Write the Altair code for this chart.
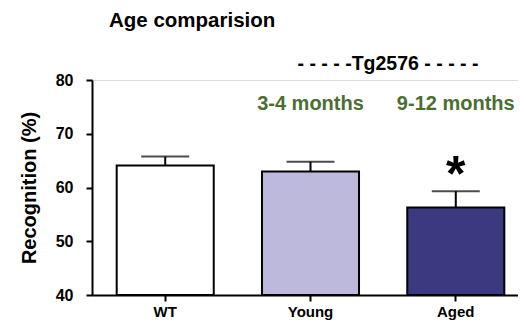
import altair as alt
import pandas as pd

groups = ["WT", "Young", "Aged"]
means = [64.1, 63.0, 56.3]
sems = [1.65, 1.8, 3.0]
colors = ["#FFFFFF", "#BCB9DC", "#3B3A80"]
stars = ["", "", "*"]
ages = ["", "3-4 months", "9-12 months"]
y_ticks = [40, 50, 60, 70, 80]

df = pd.DataFrame({
    "group": groups,
    "mean": means,
    "upper": [m + s for m, s in zip(means, sems)],
    "color": colors,
    "star": stars,
    "age": ages,
})

FONT = "Liberation Sans"

x_enc = alt.X("group:N", sort=groups,
              scale=alt.Scale(paddingInner=0.332, paddingOuter=0.17, range=[0, 437]),
              axis=alt.Axis(title=None, labelAngle=0, labelFont=FONT, labelFontSize=15,
                            labelFontWeight="bold", labelColor="black", labelPadding=3,
                            domainColor="black", domainWidth=2, tickColor="black",
                            tickWidth=2, tickSize=6))
y_scale = alt.Scale(domain=[40, 80], nice=False, clamp=True)

base = alt.Chart(df)

bars = base.mark_bar(stroke="black", strokeWidth=2).encode(
    x=x_enc,
    y=alt.Y("mean:Q", scale=y_scale,
            axis=alt.Axis(values=y_ticks, title="Recognition (%)", grid=False,
                          labelFont=FONT, labelFontSize=16, labelFontWeight="bold",
                          labelColor="black", labelPadding=13,
                          titleFont=FONT, titleFontSize=20, titleFontWeight="bold",
                          titleColor="black", titlePadding=16,
                          domainColor="black", domainWidth=2, tickColor="black",
                          tickWidth=2, tickSize=6)),
    y2=alt.datum(40),
    fill=alt.Fill("color:N", scale=None),
)

err = base.mark_rule(color="black", strokeWidth=2).encode(
    x=alt.X("group:N", sort=groups),
    y=alt.Y("mean:Q"),
    y2="upper:Q",
)

caps = base.mark_tick(color="black", thickness=2, size=48).encode(
    x=alt.X("group:N", sort=groups),
    y=alt.Y("upper:Q"),
)

star = base.mark_text(font=FONT, fontSize=50, fontWeight="bold", color="black",
                      baseline="alphabetic", dy=0).encode(
    x=alt.X("group:N", sort=groups),
    y=alt.Y("upper:Q"),
    text="star:N",
)

age_txt = base.mark_text(font=FONT, fontSize=20, fontWeight="bold", color="#4A6F30",
                         baseline="alphabetic").encode(
    x=alt.X("group:N", sort=groups),
    y=alt.value(30),
    text="age:N",
)

title_df = pd.DataFrame({"t": ["Age comparision"]})
title_txt = alt.Chart(title_df).mark_text(font=FONT, fontSize=20.5, fontWeight="bold",
                                          color="black", align="left",
                                          baseline="alphabetic").encode(
    x=alt.value(17), y=alt.value(-53), text="t:N")

tg_df = pd.DataFrame({"t": ["- - - - -Tg2576 - - - - -"]})
tg_txt = alt.Chart(tg_df).mark_text(font=FONT, fontSize=19.5, fontWeight="bold",
                                    color="black", align="center",
                                    baseline="alphabetic").encode(
    x=alt.value(296), y=alt.value(-10), text="t:N")

chart = alt.layer(bars, err, caps, star, age_txt, title_txt, tg_txt).properties(
    width=426, height=215,
    autosize=alt.AutoSizeParams(type="none"),
    padding={"left": 84, "top": 72, "right": 0, "bottom": 26},
).configure_view(stroke=None).configure(background="white")

chart.save("out.html", embed_options={"renderer": "svg", "actions": False})
